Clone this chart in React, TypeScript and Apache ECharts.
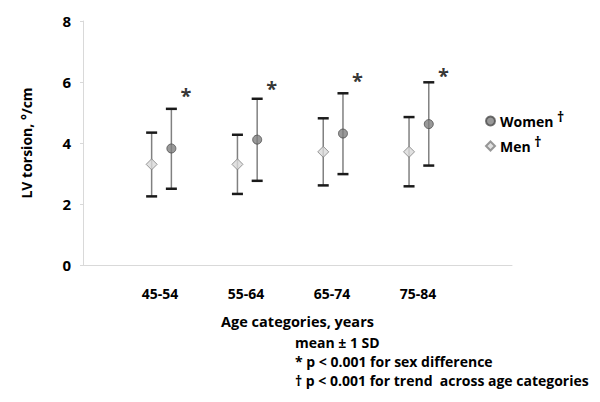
import React, { useEffect, useRef } from "react";
import * as echarts from "echarts";

const categories = ["45-54", "55-64", "65-74", "75-84"];
const womenMean = [3.82, 4.11, 4.31, 4.62];
const womenLow = [2.5, 2.76, 2.98, 3.26];
const womenHigh = [5.12, 5.45, 5.63, 5.99];
const menMean = [3.3, 3.3, 3.71, 3.71];
const menLow = [2.25, 2.33, 2.61, 2.58];
const menHigh = [4.34, 4.27, 4.81, 4.85];
const starY = [5.55, 5.8, 6.05, 6.22];
const yTicks = [0, 2, 4, 6, 8];
const notes = [
  "mean \u00b1 1 SD",
  "* p < 0.001 for sex difference",
  "\u2020 p < 0.001 for trend  across age categories",
];

const MEN_OFF = 0.8;
const WOMEN_OFF = 1.03;
const STAR_OFF = 1.2;
const FONT = "Open Sans";

export default function App() {
  const ref = useRef<HTMLDivElement>(null);
  useEffect(() => {
    if (!ref.current) return;
    const chart = echarts.init(ref.current, undefined, { renderer: "svg" });

    const errData = (off: number, low: number[], high: number[]) =>
      low.map((l, i) => [i + off, l, high[i]]);

    const errSeries = (off: number, low: number[], high: number[]) => ({
      type: "custom",
      xAxisIndex: 0,
      yAxisIndex: 0,
      z: 2,
      silent: true,
      data: errData(off, low, high),
      encode: { x: 0, y: [1, 2] },
      renderItem: (params: any, api: any) => {
        const x = api.value(0);
        const lo = api.coord([x, api.value(1)]);
        const hi = api.coord([x, api.value(2)]);
        const hw = 5.5;
        return {
          type: "group",
          children: [
            {
              type: "line",
              shape: { x1: lo[0], y1: lo[1], x2: hi[0], y2: hi[1] },
              style: { stroke: "#808080", lineWidth: 1.5 },
            },
            {
              type: "line",
              shape: { x1: lo[0] - hw, y1: lo[1], x2: lo[0] + hw, y2: lo[1] },
              style: { stroke: "#1a1a1a", lineWidth: 2.5 },
            },
            {
              type: "line",
              shape: { x1: hi[0] - hw, y1: hi[1], x2: hi[0] + hw, y2: hi[1] },
              style: { stroke: "#1a1a1a", lineWidth: 2.5 },
            },
          ],
        };
      },
    });

    chart.setOption({
      animation: false,
      textStyle: { fontFamily: FONT },
      grid: [
        { left: 83, right: 88, top: 21, bottom: 137 },
        { left: 117, right: 139, top: 21, bottom: 137 },
      ],
      xAxis: [
        {
          type: "value",
          gridIndex: 0,
          min: 0,
          max: 5,
          interval: 1,
          axisLine: { show: true, lineStyle: { color: "#d9d9d9", width: 1 } },
          axisTick: { show: false },
          axisLabel: { show: false },
          splitLine: { show: false },
          name: "Age categories, years",
          nameLocation: "middle",
          nameGap: 49,
          nameTextStyle: { fontFamily: FONT, fontWeight: "bold", fontSize: 14.5, color: "#000" },
        },
        {
          type: "category",
          gridIndex: 1,
          data: categories,
          axisLine: { show: false },
          axisTick: { show: false },
          axisLabel: {
            margin: 21,
            fontFamily: FONT,
            fontWeight: "bold",
            fontSize: 14,
            color: "#000",
          },
        },
      ],
      yAxis: [
        {
          type: "value",
          gridIndex: 0,
          min: yTicks[0],
          max: yTicks[yTicks.length - 1],
          interval: 2,
          axisLine: { show: true, lineStyle: { color: "#d9d9d9", width: 1 } },
          axisTick: { show: true, length: 3, lineStyle: { color: "#d9d9d9" } },
          splitLine: { show: false },
          axisLabel: {
            margin: 12,
            fontFamily: FONT,
            fontWeight: "bold",
            fontSize: 15,
            color: "#000",
          },
          name: "LV torsion, \u00b0/cm",
          nameLocation: "middle",
          nameGap: 50,
          nameRotate: 90,
          nameTextStyle: { fontFamily: FONT, fontWeight: "bold", fontSize: 14, color: "#000" },
        },
        {
          type: "value",
          gridIndex: 1,
          show: false,
        },
      ],
      legend: {
        orient: "vertical",
        left: 480,
        top: 104,
        itemWidth: 9,
        itemHeight: 9,
        itemGap: 6,
        data: [
          { name: "Women", icon: "circle" },
          { name: "Men", icon: "diamond" },
        ],
        formatter: (name: string) => `${name} {sup|\u2020}`,
        textStyle: {
          fontFamily: FONT,
          fontWeight: "bold",
          fontSize: 14,
          color: "#000",
          rich: {
            sup: {
              fontFamily: FONT,
              fontWeight: "bold",
              fontSize: 14,
              color: "#000",
              padding: [0, 0, 10, 0],
            },
          },
        },
      },
      graphic: notes.map((t, i) => ({
        type: "text",
        left: 295,
        top: 335 + i * 19,
        style: {
          text: t,
          fontFamily: FONT,
          fontWeight: "bold",
          fontSize: 14,
          fill: "#000",
        },
      })),
      series: [
        errSeries(MEN_OFF, menLow, menHigh),
        errSeries(WOMEN_OFF, womenLow, womenHigh),
        {
          name: "Men",
          type: "scatter",
          xAxisIndex: 0,
          yAxisIndex: 0,
          z: 3,
          symbol: "diamond",
          symbolSize: 11,
          itemStyle: { color: "#d9d9d9", borderColor: "#7f7f7f", borderWidth: 1 },
          data: menMean.map((v, i) => [i + MEN_OFF, v]),
        },
        {
          name: "Women",
          type: "scatter",
          xAxisIndex: 0,
          yAxisIndex: 0,
          z: 3,
          symbol: "circle",
          symbolSize: 9,
          itemStyle: { color: "#7f7f7f", borderColor: "#4d4d4d", borderWidth: 1 },
          data: womenMean.map((v, i) => [i + WOMEN_OFF, v]),
        },
        {
          name: "stars",
          type: "scatter",
          xAxisIndex: 0,
          yAxisIndex: 0,
          symbol: "circle",
          symbolSize: 1,
          itemStyle: { color: "rgba(0,0,0,0)" },
          silent: true,
          label: {
            show: true,
            position: "inside",
            formatter: "*",
            fontFamily: FONT,
            fontWeight: "bold",
            fontSize: 20,
            color: "#000",
          },
          data: starY.map((v, i) => [i + STAR_OFF, v]),
        },
      ],
    });
    return () => chart.dispose();
  }, []);
  return <div ref={ref} style={{ width: 600, height: 402, margin: -8 }} />;
}
